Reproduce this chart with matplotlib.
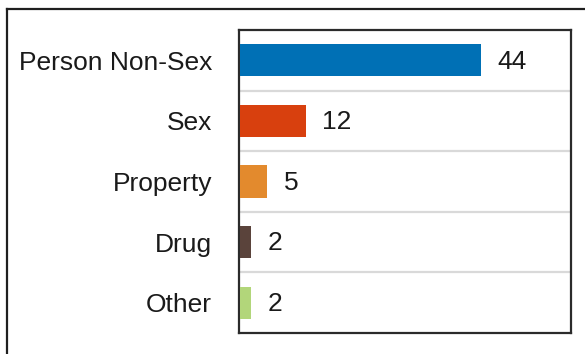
import matplotlib
matplotlib.use("Agg")
import matplotlib.pyplot as plt
from matplotlib.lines import Line2D

categories = ["Person Non-Sex", "Sex", "Property", "Drug", "Other"]
counts = [44, 12, 5, 2, 2]
bar_colors = ["#0070b5", "#d8400e", "#e38a2d", "#5a433b", "#b2d67a"]

plt.rcParams["font.family"] = ["Liberation Sans", "DejaVu Sans"]

fig = plt.figure(figsize=(5.85, 3.54), dpi=100)
ax = fig.add_axes([238.5 / 585, 1 - 333 / 354, (571 - 238.5) / 585, (333 - 30) / 354])

y = list(range(len(categories)))
ax.barh(y, counts, height=0.53, color=bar_colors, zorder=3)

# value labels to the right of each bar
for yi, v in zip(y, counts):
    ax.annotate(str(v), xy=(v, yi), xytext=(12, -1), textcoords="offset points",
                va="center", ha="left", fontsize=19, color="#1a1a1a")

# separators between rows
for b in [0.5, 1.5, 2.5, 3.5]:
    ax.axhline(b, color="#d9d9d9", lw=1.6, zorder=1)

ax.set_ylim(len(categories) - 0.5, -0.5)
ax.set_xlim(-0.3, 60.5)
ax.set_yticks(y)
ax.set_yticklabels(categories, fontsize=19, color="#1a1a1a")
ax.set_xticks([])
ax.tick_params(axis="y", length=0, pad=19)
for s in ax.spines.values():
    s.set_color("#2b2b2b")
    s.set_linewidth(1.6)

# outer frame, cropped at the right and bottom
x0, y0 = 7 / 585, 1 - 9 / 354
fig.add_artist(Line2D([x0, x0], [y0, -0.05], transform=fig.transFigure, color="#1f1f1f", lw=1.6))
fig.add_artist(Line2D([x0, 1.05], [y0, y0], transform=fig.transFigure, color="#1f1f1f", lw=1.6))

fig.savefig("out.png", dpi=100)
